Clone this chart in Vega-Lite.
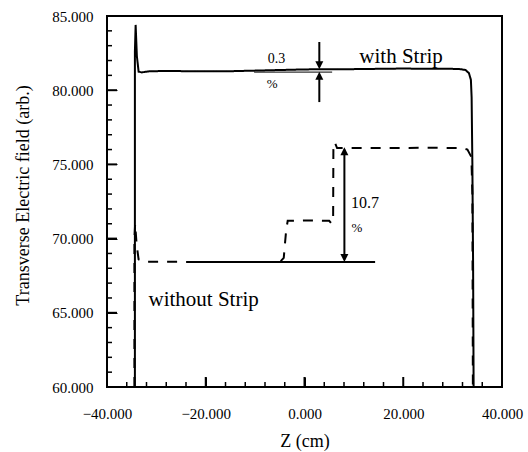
{
  "$schema": "https://vega.github.io/schema/vega-lite/v6.json",
  "width": 395,
  "height": 371,
  "autosize": {"type": "none"},
  "padding": {"left": 107, "top": 16, "right": 26, "bottom": 65},
  "background": "white",
  "config": {
    "view": {"stroke": "black", "strokeWidth": 2},
    "axis": {
      "labelFont": "Liberation Serif",
      "titleFont": "Liberation Serif",
      "labelColor": "black",
      "titleColor": "black",
      "tickColor": "black",
      "domain": false,
      "grid": false,
      "labelFlush": false,
      "labelOverlap": false,
      "titleFontWeight": "normal",
      "labelFontSize": 15,
      "titleFontSize": 18
    },
    "text": {"font": "Liberation Serif", "color": "black"}
  },
  "datasets": {
    "curves": [
      {"series": "with Strip", "i": 1, "z": -34.35, "v": 60},
      {"series": "with Strip", "i": 2, "z": -34.35, "v": 82.6},
      {"series": "with Strip", "i": 3, "z": -34.2, "v": 84.4},
      {"series": "with Strip", "i": 4, "z": -33.95, "v": 82.3},
      {"series": "with Strip", "i": 5, "z": -33.6, "v": 81.25},
      {"series": "with Strip", "i": 6, "z": -33.0, "v": 81.2},
      {"series": "with Strip", "i": 7, "z": -31.5, "v": 81.27},
      {"series": "with Strip", "i": 8, "z": -28, "v": 81.3},
      {"series": "with Strip", "i": 9, "z": -24, "v": 81.28},
      {"series": "with Strip", "i": 10, "z": -20, "v": 81.27},
      {"series": "with Strip", "i": 11, "z": -15, "v": 81.28},
      {"series": "with Strip", "i": 12, "z": -10, "v": 81.32},
      {"series": "with Strip", "i": 13, "z": -5, "v": 81.36},
      {"series": "with Strip", "i": 14, "z": 0, "v": 81.4},
      {"series": "with Strip", "i": 15, "z": 5, "v": 81.42},
      {"series": "with Strip", "i": 16, "z": 10, "v": 81.42},
      {"series": "with Strip", "i": 17, "z": 15, "v": 81.44},
      {"series": "with Strip", "i": 18, "z": 20, "v": 81.46},
      {"series": "with Strip", "i": 19, "z": 25, "v": 81.44},
      {"series": "with Strip", "i": 20, "z": 29, "v": 81.45},
      {"series": "with Strip", "i": 21, "z": 31.5, "v": 81.42},
      {"series": "with Strip", "i": 22, "z": 32.6, "v": 81.36},
      {"series": "with Strip", "i": 23, "z": 33.3, "v": 81.15},
      {"series": "with Strip", "i": 24, "z": 33.7, "v": 80.7},
      {"series": "with Strip", "i": 25, "z": 33.85, "v": 79.5},
      {"series": "with Strip", "i": 26, "z": 34.0, "v": 75},
      {"series": "with Strip", "i": 27, "z": 34.15, "v": 68},
      {"series": "with Strip", "i": 28, "z": 34.25, "v": 60},
      {"series": "without Strip", "i": 1, "z": -34.45, "v": 60},
      {"series": "without Strip", "i": 2, "z": -34.45, "v": 70},
      {"series": "without Strip", "i": 3, "z": -34.3, "v": 71.0},
      {"series": "without Strip", "i": 4, "z": -34.0, "v": 69.6},
      {"series": "without Strip", "i": 5, "z": -33.6, "v": 68.6},
      {"series": "without Strip", "i": 6, "z": -32.5, "v": 68.45},
      {"series": "without Strip", "i": 7, "z": -20, "v": 68.42},
      {"series": "without Strip", "i": 8, "z": -5, "v": 68.42},
      {"series": "without Strip", "i": 9, "z": -4.2, "v": 68.7},
      {"series": "without Strip", "i": 10, "z": -4.0, "v": 69.5},
      {"series": "without Strip", "i": 11, "z": -3.7, "v": 70.6},
      {"series": "without Strip", "i": 12, "z": -3.4, "v": 71.2},
      {"series": "without Strip", "i": 13, "z": 0, "v": 71.22},
      {"series": "without Strip", "i": 14, "z": 5.0, "v": 71.2},
      {"series": "without Strip", "i": 15, "z": 5.5, "v": 71.0},
      {"series": "without Strip", "i": 16, "z": 5.8, "v": 71.4},
      {"series": "without Strip", "i": 17, "z": 5.85, "v": 76.0},
      {"series": "without Strip", "i": 18, "z": 6.1, "v": 76.5},
      {"series": "without Strip", "i": 19, "z": 6.6, "v": 76.1},
      {"series": "without Strip", "i": 20, "z": 15, "v": 76.1},
      {"series": "without Strip", "i": 21, "z": 25, "v": 76.12},
      {"series": "without Strip", "i": 22, "z": 32.0, "v": 76.1},
      {"series": "without Strip", "i": 23, "z": 33.0, "v": 76.0},
      {"series": "without Strip", "i": 24, "z": 33.8, "v": 75.5},
      {"series": "without Strip", "i": 25, "z": 34.0, "v": 73},
      {"series": "without Strip", "i": 26, "z": 34.1, "v": 60}
    ],
    "xmajor": [{"z": -20}, {"z": 0}, {"z": 20}],
    "xminor": [{"z": -36}, {"z": -32}, {"z": -28}, {"z": -24}, {"z": -16}, {"z": -12}, {"z": -8}, {"z": -4}, {"z": 4}, {"z": 8}, {"z": 12}, {"z": 16}, {"z": 24}, {"z": 28}, {"z": 32}, {"z": 36}],
    "ymajor": [{"v": 65}, {"v": 70}, {"v": 75}, {"v": 80}],
    "yminor": [{"v": 61}, {"v": 62}, {"v": 63}, {"v": 64}, {"v": 66}, {"v": 67}, {"v": 68}, {"v": 69}, {"v": 71}, {"v": 72}, {"v": 73}, {"v": 74}, {"v": 76}, {"v": 77}, {"v": 78}, {"v": 79}, {"v": 81}, {"v": 82}, {"v": 83}, {"v": 84}]
  },
  "layer": [
    {
      "data": {"name": "curves"},
      "mark": {"type": "line", "color": "black", "strokeWidth": 2, "interpolate": "linear"},
      "encoding": {
        "x": {
          "field": "z", "type": "quantitative",
          "scale": {"domain": [-40, 40], "nice": false, "zero": false},
          "axis": {"values": [-40, -20, 0, 20, 40], "format": ".3f", "offset": -10, "tickSize": 10, "labelPadding": 19, "title": "Z (cm)", "titlePadding": 11, "orient": "bottom"}
        },
        "y": {
          "field": "v", "type": "quantitative",
          "scale": {"domain": [60, 85], "nice": false, "zero": false},
          "axis": {"values": [60, 65, 70, 75, 80, 85], "format": ".3f", "offset": -10, "tickSize": 10, "labelPadding": 14, "title": "Transverse Electric field (arb.)", "titleFontSize": 18, "titlePadding": 19, "titleY": 179, "orient": "left"}
        },
        "order": {"field": "i", "type": "quantitative"},
        "detail": {"field": "series"},
        "strokeDash": {
          "field": "series", "type": "nominal",
          "scale": {"domain": ["with Strip", "without Strip"], "range": [[1, 0], [10, 9]]},
          "legend": null
        }
      }
    },
    {
      "data": {"name": "xmajor"},
      "mark": {"type": "tick", "orient": "vertical", "size": 10, "thickness": 2, "color": "black", "opacity": 1, "yOffset": -5},
      "encoding": {
        "x": {"field": "z", "type": "quantitative"},
        "y": {"datum": 60, "type": "quantitative"}
      }
    },
    {
      "data": {"name": "xminor"},
      "mark": {"type": "tick", "orient": "vertical", "size": 5, "thickness": 1.5, "color": "black", "opacity": 1, "yOffset": -2.5},
      "encoding": {
        "x": {"field": "z", "type": "quantitative"},
        "y": {"datum": 60, "type": "quantitative"}
      }
    },
    {
      "data": {"name": "ymajor"},
      "mark": {"type": "tick", "orient": "horizontal", "size": 10, "thickness": 2, "color": "black", "opacity": 1, "xOffset": 5},
      "encoding": {
        "y": {"field": "v", "type": "quantitative"},
        "x": {"datum": -40, "type": "quantitative"}
      }
    },
    {
      "data": {"name": "yminor"},
      "mark": {"type": "tick", "orient": "horizontal", "size": 5, "thickness": 1.5, "color": "black", "opacity": 1, "xOffset": 2.5},
      "encoding": {
        "y": {"field": "v", "type": "quantitative"},
        "x": {"datum": -40, "type": "quantitative"}
      }
    },
    {
      "data": {"values": [
        {"z1": -22.8, "v1": 68.42, "z2": 14.3, "v2": 68.42},
        {"z1": 3.0, "v1": 83.25, "z2": 3.0, "v2": 81.6},
        {"z1": 3.0, "v1": 79.2, "z2": 3.0, "v2": 81.05},
        {"z1": 8.08, "v1": 68.6, "z2": 8.08, "v2": 76.0}
      ]},
      "mark": {"type": "rule", "color": "black", "strokeWidth": 2},
      "encoding": {
        "x": {"field": "z1", "type": "quantitative"},
        "x2": {"field": "z2"},
        "y": {"field": "v1", "type": "quantitative"},
        "y2": {"field": "v2"}
      }
    },
    {
      "data": {"values": [
        {"z1": -10.2, "v1": 81.22, "z2": 5.6, "v2": 81.22}
      ]},
      "mark": {"type": "rule", "color": "black", "strokeWidth": 1},
      "encoding": {
        "x": {"field": "z1", "type": "quantitative"},
        "x2": {"field": "z2"},
        "y": {"field": "v1", "type": "quantitative"},
        "y2": {"field": "v2"}
      }
    },
    {
      "data": {"values": [
        {"z": 3.0, "v": 81.42},
        {"z": 8.08, "v": 68.42}
      ]},
      "mark": {"type": "point", "shape": "M-0.5,-1L0.5,-1L0,0Z", "size": 256, "filled": true, "color": "black", "opacity": 1},
      "encoding": {
        "x": {"field": "z", "type": "quantitative"},
        "y": {"field": "v", "type": "quantitative"}
      }
    },
    {
      "data": {"values": [
        {"z": 3.0, "v": 81.25},
        {"z": 8.08, "v": 76.15}
      ]},
      "mark": {"type": "point", "shape": "M-0.5,1L0.5,1L0,0Z", "size": 256, "filled": true, "color": "black", "opacity": 1},
      "encoding": {
        "x": {"field": "z", "type": "quantitative"},
        "y": {"field": "v", "type": "quantitative"}
      }
    },
    {
      "data": {"values": [
        {"z": 11.1, "v": 81.84, "label": "with Strip"},
        {"z": -31.6, "v": 65.46, "label": "without Strip"}
      ]},
      "mark": {"type": "text", "fontSize": 21, "align": "left", "baseline": "alphabetic"},
      "encoding": {
        "x": {"field": "z", "type": "quantitative"},
        "y": {"field": "v", "type": "quantitative"},
        "text": {"field": "label"}
      }
    },
    {
      "data": {"values": [
        {"z": -5.69, "v": 81.82, "label": "0.3"}
      ]},
      "mark": {"type": "text", "fontSize": 14, "align": "center", "baseline": "alphabetic"},
      "encoding": {
        "x": {"field": "z", "type": "quantitative"},
        "y": {"field": "v", "type": "quantitative"},
        "text": {"field": "label"}
      }
    },
    {
      "data": {"values": [
        {"z": 9.43, "v": 72.07, "label": "10.7"}
      ]},
      "mark": {"type": "text", "fontSize": 16, "align": "left", "baseline": "alphabetic"},
      "encoding": {
        "x": {"field": "z", "type": "quantitative"},
        "y": {"field": "v", "type": "quantitative"},
        "text": {"field": "label"}
      }
    },
    {
      "data": {"values": [
        {"z": -6.55, "v": 80.43, "label": "%"},
        {"z": 10.6, "v": 70.69, "label": "%"}
      ]},
      "mark": {"type": "text", "fontSize": 13, "align": "center", "baseline": "middle"},
      "encoding": {
        "x": {"field": "z", "type": "quantitative"},
        "y": {"field": "v", "type": "quantitative"},
        "text": {"field": "label"}
      }
    }
  ]
}
